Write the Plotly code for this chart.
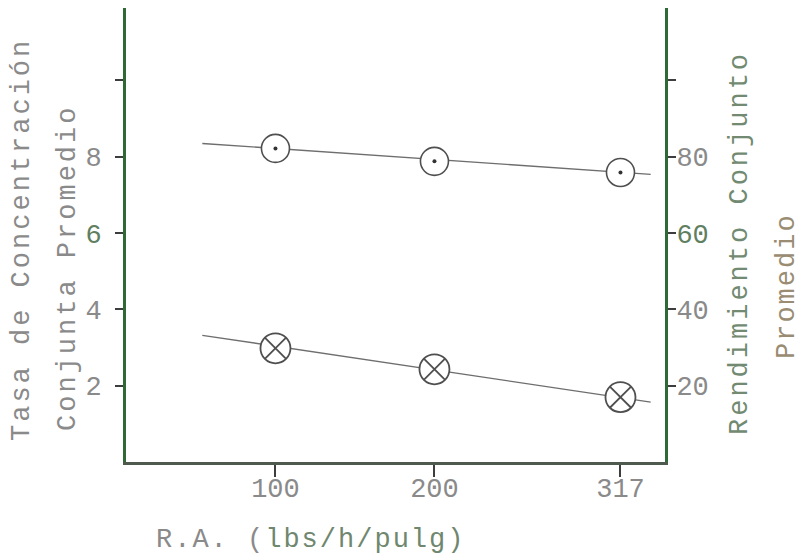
import plotly.graph_objects as go

# ---- data ----
ra = [100, 200, 317]                       # R.A. (lbs/h/pulg)
rendimiento = [82.2, 78.8, 75.9]           # right axis (Rendimiento Conjunto Promedio)
tasa = [2.98, 2.43, 1.70]                  # left axis (Tasa de Concentración Conjunta Promedio)

fit_x = [54, 336]                          # extent of the fitted lines
fit_rendimiento = [83.5, 75.4]
fit_tasa = [3.32, 1.57]

x_ticks = [100, 200, 317]
x_ticktext = ["100", "200", "317"]
left_ticks = [2, 4, 6, 8, 10]
left_ticktext = ["2", "4", "<span style='color:#5f7f5f'>6</span>", "8", ""]
right_ticks = [20, 40, 60, 80, 100]
right_ticktext = ["20", "40", "<span style='color:#5f7f5f'>60</span>", "80", ""]

FONT = "Liberation Mono"
AXIS_GREEN = "#2f6a36"
LINE_GRAY = "#6e6e6e"
MARK_GRAY = "#4f4f4f"
TEXT_GRAY = "#8a8a8a"

fig = go.Figure()

# fitted lines
fig.add_trace(go.Scatter(x=fit_x, y=fit_rendimiento, yaxis="y2", mode="lines",
                         line=dict(color=LINE_GRAY, width=1.4), hoverinfo="skip"))
fig.add_trace(go.Scatter(x=fit_x, y=fit_tasa, yaxis="y", mode="lines",
                         line=dict(color=LINE_GRAY, width=1.4), hoverinfo="skip"))

# markers: circle with dot (rendimiento)
fig.add_trace(go.Scatter(x=ra, y=rendimiento, yaxis="y2", mode="markers",
                         marker=dict(symbol="circle", size=28, color="white",
                                     line=dict(color=MARK_GRAY, width=1.6)),
                         hoverinfo="skip"))
fig.add_trace(go.Scatter(x=ra, y=rendimiento, yaxis="y2", mode="markers",
                         marker=dict(symbol="circle", size=4, color="#333333"),
                         hoverinfo="skip"))
# markers: circle with x (tasa)
fig.add_trace(go.Scatter(x=ra, y=tasa, yaxis="y", mode="markers",
                         marker=dict(symbol="circle-x", size=30, color="white",
                                     line=dict(color=MARK_GRAY, width=1.8)),
                         hoverinfo="skip"))

# page has an 8px body margin: figure occupies page pixels 8..806 / 8..560
OFF = 8
W, H = 806 - OFF, 560 - OFF
ml, mr, mt, mb = 118, 141, 0, 98
pw, ph = W - ml - mr, H - mt - mb


def px(page_x):
    return (page_x - OFF - ml) / pw


def py(page_y):
    return (H - mb - (page_y - OFF)) / ph


def spaced(txt, ls):
    return "<span style='letter-spacing:%dpx'>%s</span>" % (ls, txt)


annotations = [
    dict(text=spaced("Tasa de Concentración", 3), x=px(22), y=py(240), textangle=-90,
         font=dict(family=FONT, size=27, color=TEXT_GRAY)),
    dict(text=spaced("Conjunta Promedio", 3), x=px(68), y=py(268), textangle=-90,
         font=dict(family=FONT, size=27, color=TEXT_GRAY)),
    dict(text=spaced("Rendimiento Conjunto", 3), x=px(740), y=py(243), textangle=-90,
         font=dict(family=FONT, size=27, color="#718a71")),
    dict(text=spaced("Promedio", 2), x=px(787), y=py(286), textangle=-90,
         font=dict(family=FONT, size=27, color="#9a8c72")),
    dict(text="<span style='letter-spacing:2px'>R.A. (</span>"
              "<span style='letter-spacing:2px;color:#6f876f'>lbs/h/pulg)</span>",
         x=px(310), y=py(540),
         font=dict(family=FONT, size=27, color=TEXT_GRAY)),
]
for a in annotations:
    a.update(xref="paper", yref="paper", showarrow=False, xanchor="center", yanchor="middle")

fig.update_layout(
    width=W, height=H,
    margin=dict(l=ml, r=mr, t=mt, b=mb, pad=0),
    paper_bgcolor="white", plot_bgcolor="white",
    showlegend=False,
    annotations=annotations,
    xaxis=dict(range=[6, 345], showgrid=False, zeroline=False,
               showline=True, linecolor="#4d5a4d", linewidth=3,
               ticks="outside", ticklen=12, tickwidth=2, tickcolor="#3d3d3d",
               tickvals=x_ticks, ticktext=x_ticktext, ticklabelstandoff=-12,
               tickfont=dict(family=FONT, size=27, color=TEXT_GRAY)),
    yaxis=dict(range=[0, 11.9], showgrid=False, zeroline=False,
               showline=True, linecolor=AXIS_GREEN, linewidth=3,
               ticks="outside", ticklen=8, tickwidth=2, tickcolor="#3d3d3d",
               tickvals=left_ticks, ticktext=left_ticktext,
               ticklabelstandoff=8,
               tickfont=dict(family=FONT, size=27, color=TEXT_GRAY)),
    yaxis2=dict(range=[0, 119], overlaying="y", side="right", showgrid=False, zeroline=False,
                showline=True, linecolor=AXIS_GREEN, linewidth=3,
                ticks="outside", ticklen=8, tickwidth=2, tickcolor="#3d3d3d",
                tickvals=right_ticks, ticktext=right_ticktext, ticklabelstandoff=-5,
                tickfont=dict(family=FONT, size=27, color=TEXT_GRAY)),
)

fig.write_html("out.html")
